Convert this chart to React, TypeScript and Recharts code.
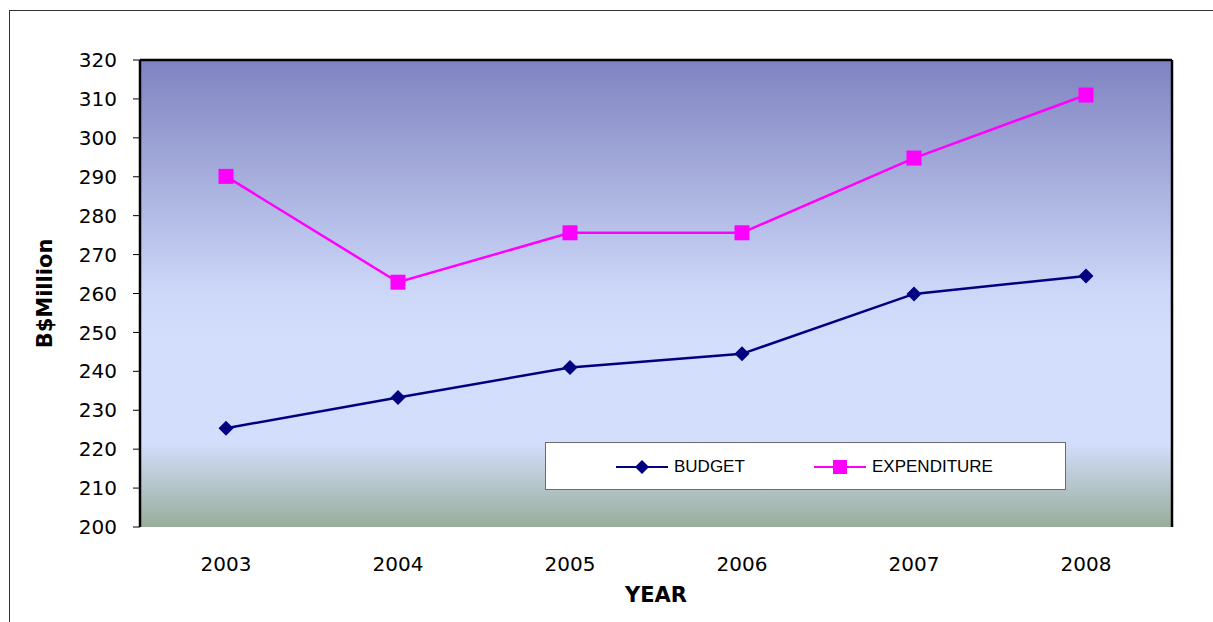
import React from 'react';
import {
  LineChart,
  Line,
  XAxis,
  YAxis,
  CartesianGrid,
  Legend,
} from 'recharts';

const years = ['2003', '2004', '2005', '2006', '2007', '2008'];
const budget = [225.4, 233.3, 241, 244.5, 259.9, 264.5];
const expenditure = [290.1, 262.9, 275.6, 275.6, 294.8, 311];
const yTicks = [200, 210, 220, 230, 240, 250, 260, 270, 280, 290, 300, 310, 320];

const BUDGET_COLOR = '#000080';
const EXP_COLOR = '#ff00ff';
const FONT = "'DejaVu Sans', sans-serif";

// each year sits in the middle of its slot, slot edges carry the tick marks
const data = years.map((year, i) => ({
  pos: i + 0.5,
  year,
  budget: budget[i],
  expenditure: expenditure[i],
}));
const slotEdges = years.map((_, i) => i).concat(years.length);
const slotCentres = years.map((_, i) => i + 0.5);

const Diamond = (props: any) => {
  const { cx, cy } = props;
  if (cx == null || cy == null) return null;
  const r = 7.5;
  return (
    <path
      d={`M${cx},${cy - r}L${cx + r},${cy}L${cx},${cy + r}L${cx - r},${cy}Z`}
      fill={BUDGET_COLOR}
    />
  );
};

const Square = (props: any) => {
  const { cx, cy } = props;
  if (cx == null || cy == null) return null;
  const s = 15;
  return <rect x={cx - s / 2} y={cy - s / 2} width={s} height={s} fill={EXP_COLOR} />;
};

const LegendBox = () => (
  <div
    style={{
      width: 521,
      height: 48,
      boxSizing: 'border-box',
      background: '#fff',
      border: '1px solid #6b6b6b',
      position: 'relative',
      fontFamily: "'Liberation Sans', Arial, sans-serif",
      fontSize: 17,
      color: '#000',
    }}
  >
    <div style={{ position: 'absolute', left: 70, top: 14, display: 'flex', alignItems: 'center' }}>
      <svg width={52} height={18}>
        <line x1={0} y1={9} x2={52} y2={9} stroke={BUDGET_COLOR} strokeWidth={2} />
        <path d="M26,2L33,9L26,16L19,9Z" fill={BUDGET_COLOR} />
      </svg>
      <span style={{ marginLeft: 6 }}>BUDGET</span>
    </div>
    <div style={{ position: 'absolute', left: 268, top: 14, display: 'flex', alignItems: 'center' }}>
      <svg width={52} height={18}>
        <line x1={0} y1={9} x2={52} y2={9} stroke={EXP_COLOR} strokeWidth={2} />
        <rect x={19} y={2} width={14} height={14} fill={EXP_COLOR} />
      </svg>
      <span style={{ marginLeft: 6 }}>EXPENDITURE</span>
    </div>
  </div>
);

export default function App() {
  return (
    <div
      style={{
        position: 'absolute',
        left: 0,
        top: 0,
        width: 1213,
        height: 622,
        background: '#fff',
        overflow: 'hidden',
      }}
    >
      <div
        style={{
          position: 'absolute',
          left: 9,
          top: 10,
          width: 1400,
          height: 800,
          borderLeft: '1.5px solid #333',
          borderTop: '1.5px solid #333',
        }}
      />
      <div style={{ position: 'absolute', left: 0, top: 0 }}>
        <LineChart
          width={1213}
          height={622}
          data={data}
          margin={{ top: 59, right: 40, bottom: 15, left: 10 }}
        >
          <defs>
            <linearGradient id="plotBg" x1="0" y1="0" x2="0" y2="1">
              <stop offset="0%" stopColor="#7f83c0" />
              <stop offset="50%" stopColor="#cdd8f9" />
              <stop offset="60%" stopColor="#d3defc" />
              <stop offset="82%" stopColor="#d3defc" />
              <stop offset="100%" stopColor="#98ad9b" />
            </linearGradient>
          </defs>
          <CartesianGrid
            xAxisId="x"
            yAxisId="y"
            horizontal={false}
            vertical={false}
            fill="url(#plotBg)"
            fillOpacity={1}
          />
          <XAxis
            xAxisId="x"
            type="number"
            dataKey="pos"
            domain={[0, years.length]}
            ticks={slotEdges}
            tick={false}
            tickSize={7}
            height={0}
            axisLine={{ stroke: '#000', strokeWidth: 2.5 }}
            tickLine={{ stroke: '#000' }}
          />
          <XAxis
            xAxisId="lab"
            type="number"
            dataKey="pos"
            domain={[0, years.length]}
            ticks={slotCentres}
            interval={0}
            tickFormatter={(v: number) => years[Math.floor(v)]}
            tickLine={false}
            axisLine={false}
            tickSize={0}
            tickMargin={30}
            height={80}
            tick={{ fill: '#000', fontSize: 20, fontFamily: FONT }}
            label={{
              value: 'YEAR',
              position: 'insideBottom',
              offset: 5,
              style: { fill: '#000', fontSize: 21, fontWeight: 'bold', fontFamily: FONT },
            }}
          />
          <XAxis
            xAxisId="top"
            orientation="top"
            type="number"
            dataKey="pos"
            domain={[0, years.length]}
            ticks={slotEdges}
            height={1}
            tick={false}
            tickLine={false}
            axisLine={{ stroke: '#000', strokeWidth: 2.5 }}
          />
          <YAxis
            yAxisId="y"
            domain={[200, 320]}
            ticks={yTicks}
            interval={0}
            width={130}
            tickSize={7}
            tickMargin={16}
            axisLine={{ stroke: '#000', strokeWidth: 2.5 }}
            tickLine={{ stroke: '#000' }}
            tick={{ fill: '#000', fontSize: 20, fontFamily: FONT }}
            label={{
              value: 'B$Million',
              angle: -90,
              position: 'insideLeft',
              offset: 35,
              style: {
                fill: '#000',
                fontSize: 21,
                fontWeight: 'bold',
                fontFamily: FONT,
                textAnchor: 'middle',
              },
            }}
          />
          <YAxis
            yAxisId="r"
            orientation="right"
            domain={[200, 320]}
            ticks={yTicks}
            width={1}
            tick={false}
            tickLine={false}
            axisLine={{ stroke: '#000', strokeWidth: 2.5 }}
          />
          <Legend
            layout="vertical"
            align="center"
            verticalAlign="middle"
            content={<LegendBox />}
            wrapperStyle={{ left: 545, top: 442, width: 521, height: 48 }}
          />
          <Line
            xAxisId="x"
            yAxisId="y"
            dataKey="budget"
            name="BUDGET"
            stroke={BUDGET_COLOR}
            strokeWidth={2.5}
            dot={<Diamond />}
            activeDot={false}
            isAnimationActive={false}
          />
          <Line
            xAxisId="x"
            yAxisId="y"
            dataKey="expenditure"
            name="EXPENDITURE"
            stroke={EXP_COLOR}
            strokeWidth={2.5}
            dot={<Square />}
            activeDot={false}
            isAnimationActive={false}
          />
        </LineChart>
      </div>
    </div>
  );
}
